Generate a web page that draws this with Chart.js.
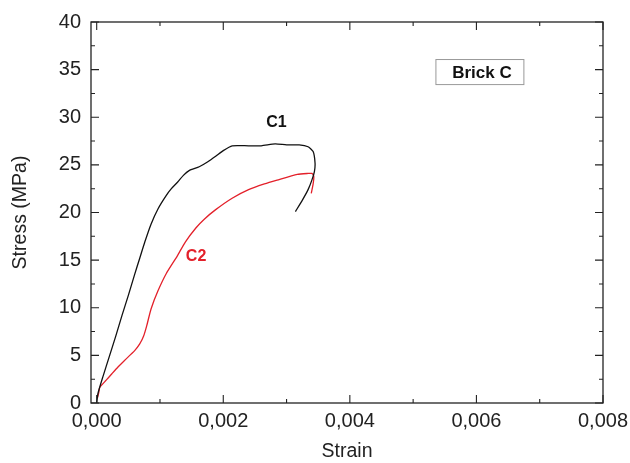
<!DOCTYPE html>
<html>
<head>
<meta charset="utf-8">
<script src="https://cdn.jsdelivr.net/npm/chart.js@4.4.0/dist/chart.umd.min.js"></script>
<style>
  body { margin: 0; background: #fff; }
  #wrap { position: relative; width: 630px; height: 463px; }
</style>
</head>
<body>
<div id="wrap"><canvas id="chart"></canvas></div>
<script>
    "use strict";

    // Data
    const c1Strain = [0, 0.00002, 0.0001, 0.0002, 0.0003, 0.0004, 0.0005, 0.0006, 0.00068, 0.00076, 0.00086, 0.00097,
        0.0011, 0.00118, 0.00128, 0.00137, 0.00146, 0.00162, 0.00175, 0.00188, 0.002, 0.00214, 0.0024, 0.0026, 0.00282,
        0.003, 0.0032, 0.00334, 0.00342, 0.00345, 0.00344, 0.0034, 0.00334, 0.00325, 0.00314];
    const c1Stress = [0, 1.0, 2.8, 4.9, 7.0, 9.2, 11.3, 13.5, 15.2, 16.9, 18.8, 20.4,
        21.8, 22.5, 23.2, 23.9, 24.4, 24.8, 25.3, 25.9, 26.5, 27.0, 27.0, 27.0, 27.2,
        27.1, 27.1, 26.9, 26.4, 25.2, 24.3, 23.4, 22.4, 21.3, 20.1];

    const c2Strain = [0.00001, 0.00003, 0.00005, 0.00015, 0.00024, 0.00034, 0.00044, 0.0006, 0.00068, 0.00074, 0.00079,
        0.00086, 0.00097, 0.0011, 0.00127, 0.0014, 0.00157, 0.0017, 0.00188, 0.00214, 0.0024, 0.00265,
        0.00285, 0.00317, 0.00334, 0.0034, 0.00343, 0.00342, 0.00339];
    const c2Stress = [0.5, 1.0, 1.65, 2.4, 3.07, 3.8, 4.47, 5.5, 6.2, 7.0, 8.1,
        9.9, 11.8, 13.6, 15.4, 16.9, 18.4, 19.3, 20.3, 21.5, 22.4, 23.0,
        23.4, 24.0, 24.1, 24.1, 23.8, 23.0, 22.0];

    const xTicks = [0, 0.002, 0.004, 0.006, 0.008];
    const xMinorTicks = [0.001, 0.003, 0.005, 0.007];
    const yTicks = [0, 5, 10, 15, 20, 25, 30, 35, 40];
    const yMinorTicks = [2.5, 7.5, 12.5, 17.5, 22.5, 27.5, 32.5, 37.5];

    const FONT = "'Liberation Sans', Arial, sans-serif";
    const BLACK = "#111111";
    const RED = "#e3202a";

    function toPoints(xs, ys) {
        return xs.map((x, i) => ({ x: x, y: ys[i] }));
    }

    // frame, inward ticks and text labels
    const framePlugin = {
        id: "frame",
        afterDatasetsDraw(chart) {
            const ctx = chart.ctx;
            const a = chart.chartArea;
            const xs = chart.scales.x;
            const ys = chart.scales.y;
            ctx.save();
            ctx.strokeStyle = "#222";
            ctx.lineWidth = 1.3;
            ctx.strokeRect(a.left, a.top, a.right - a.left, a.bottom - a.top);

            ctx.lineWidth = 1.1;
            ctx.beginPath();
            function xTick(v, len) {
                const px = xs.getPixelForValue(v);
                ctx.moveTo(px, a.bottom); ctx.lineTo(px, a.bottom - len);
                ctx.moveTo(px, a.top); ctx.lineTo(px, a.top + len);
            }
            function yTick(v, len) {
                const py = ys.getPixelForValue(v);
                ctx.moveTo(a.left, py); ctx.lineTo(a.left + len, py);
                ctx.moveTo(a.right, py); ctx.lineTo(a.right - len, py);
            }
            xTicks.forEach(v => xTick(v, 8));
            xMinorTicks.forEach(v => xTick(v, 4));
            yTicks.forEach(v => yTick(v, 8));
            yMinorTicks.forEach(v => yTick(v, 4));
            ctx.stroke();

            // curve labels
            ctx.font = "bold 16px " + FONT;
            ctx.textAlign = "center";
            ctx.textBaseline = "middle";
            ctx.fillStyle = BLACK;
            ctx.fillText("C1", xs.getPixelForValue(0.00284), ys.getPixelForValue(29.4));
            ctx.fillStyle = RED;
            ctx.fillText("C2", xs.getPixelForValue(0.00157), ys.getPixelForValue(15.35));

            // Brick C box
            const bx1 = xs.getPixelForValue(0.00536), bx2 = xs.getPixelForValue(0.00675);
            const by1 = ys.getPixelForValue(36.06), by2 = ys.getPixelForValue(33.43);
            ctx.strokeStyle = "#999";
            ctx.lineWidth = 1;
            ctx.strokeRect(bx1, by1, bx2 - bx1, by2 - by1);
            ctx.fillStyle = BLACK;
            ctx.font = "bold 17px " + FONT;
            ctx.fillText("Brick C", (bx1 + bx2) / 2 + 2, (by1 + by2) / 2 + 1);
            ctx.restore();
        }
    };

    new Chart(document.getElementById("chart"), {
        type: "scatter",
        data: {
            datasets: [{
                label: "C1",
                data: toPoints(c1Strain, c1Stress),
                showLine: true,
                borderColor: BLACK,
                borderWidth: 1.3,
                pointRadius: 0,
                tension: 0.2
            }, {
                label: "C2",
                data: toPoints(c2Strain, c2Stress),
                showLine: true,
                borderColor: RED,
                borderWidth: 1.3,
                pointRadius: 0,
                tension: 0.2
            }]
        },
        options: {
            responsive: true,
            maintainAspectRatio: false,
            animation: false,
            layout: { padding: { top: 22, right: 27, left: 0, bottom: 0 } },
            plugins: {
                legend: { display: false },
                tooltip: { enabled: false }
            },
            scales: {
                x: {
                    type: "linear",
                    min: -0.00009,
                    max: 0.008,
                    afterBuildTicks: (scale) => { scale.ticks = xTicks.map(v => ({ value: v })); },
                    afterFit: (scale) => {
                        scale.height = 60;
                        // let the 0,008 label hang into the padding
                        scale.paddingLeft = 0;
                        scale.paddingRight = 0;
                    },
                    grid: { display: false, drawTicks: false },
                    border: { display: false },
                    ticks: {
                        padding: 6,
                        color: "#222",
                        font: { family: FONT, size: 20 },
                        maxRotation: 0,
                        callback: (v) => v.toFixed(3).replace(".", ",")
                    },
                    title: {
                        display: true,
                        text: "Strain",
                        color: "#222",
                        font: { family: FONT, size: 19.5 },
                        padding: { top: 0, bottom: 0 }
                    }
                },
                y: {
                    type: "linear",
                    min: 0,
                    max: 40,
                    afterBuildTicks: (scale) => { scale.ticks = yTicks.map(v => ({ value: v })); },
                    afterFit: (scale) => { scale.width = 91; },
                    grid: { display: false, drawTicks: false },
                    border: { display: false },
                    ticks: {
                        padding: 10,
                        color: "#222",
                        font: { family: FONT, size: 20 }
                    },
                    title: {
                        display: true,
                        text: "Stress (MPa)",
                        color: "#222",
                        font: { family: FONT, size: 19.5 },
                        padding: { top: 9, bottom: 0 }
                    }
                }
            }
        },
        plugins: [framePlugin]
    });
</script>
</body>
</html>
